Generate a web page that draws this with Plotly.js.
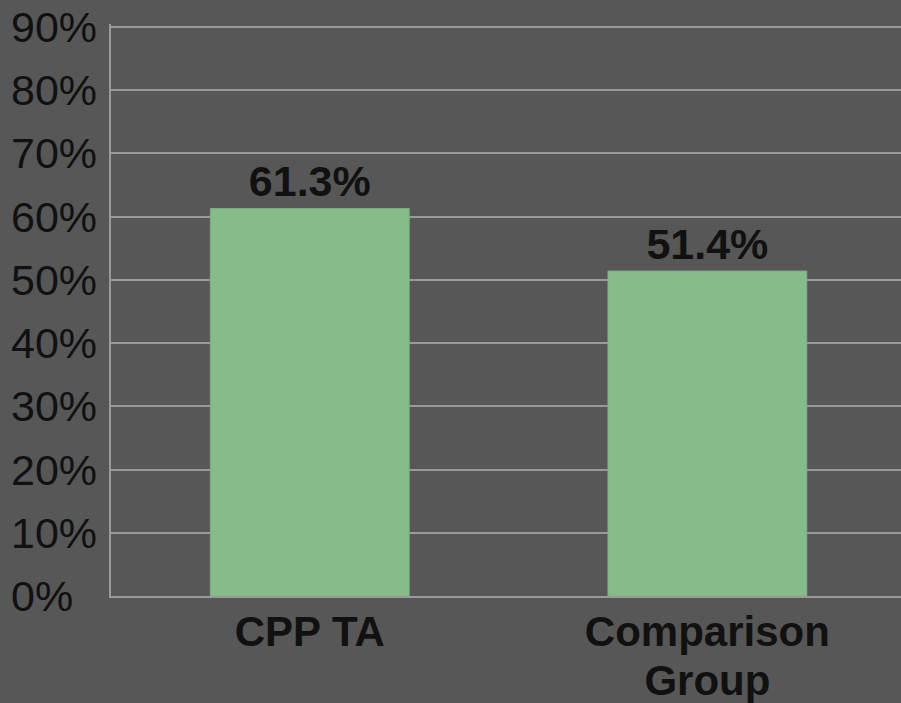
<!DOCTYPE html>
<html>
<head>
<meta charset="utf-8">
<script src="https://cdn.plot.ly/plotly-3.0.1.min.js"></script>
<style>
html,body{margin:0;padding:0;background:#575757;overflow:hidden;}
#chart{width:901px;height:703px;}
</style>
</head>
<body>
<div id="chart"></div>
<script>
const categories = ["CPP TA", "Comparison Group"];
const categoryLabels = ["CPP TA", "Comparison<br>Group"];
const values = [0.613, 0.514];
const valueLabels = ["61.3%", "51.4%"];
const yTickVals = [0, 0.1, 0.2, 0.3, 0.4, 0.5, 0.6, 0.7, 0.8, 0.9];
const yTickText = ["0%", "10%", "20%", "30%", "40%", "50%", "60%", "70%", "80%", "90%"];

const font = "'Liberation Sans', Arial, Helvetica, sans-serif";

const trace = {
  type: "bar",
  x: categories,
  y: values,
  text: valueLabels,
  textposition: "outside",
  texttemplate: "<b>%{text}</b>",
  textfont: {family: font, size: 43, color: "#111111"},
  cliponaxis: false,
  width: 0.5,
  marker: {color: "#86BC8A", line: {color: "#7DAF81", width: 1}},
  hoverinfo: "none"
};

const plotLeft = 111, plotWidth = 790;
const yAnnotations = yTickVals.map((v, i) => ({
  xref: "paper", yref: "y",
  x: (9 - plotLeft) / plotWidth, y: v,
  xanchor: "left", yanchor: "middle",
  text: yTickText[i],
  showarrow: false,
  font: {family: font, size: 43, color: "#111111"}
}));

const layout = {
  width: 901,
  height: 703,
  paper_bgcolor: "#575757",
  plot_bgcolor: "#575757",
  margin: {l: plotLeft, r: 0, t: 24, b: 107, pad: 0},
  showlegend: false,
  xaxis: {
    type: "category",
    range: [-0.5, 1.487],
    showgrid: false,
    showline: true,
    linecolor: "#9a9a9a",
    linewidth: 2,
    ticks: "",
    tickvals: categories,
    ticktext: categoryLabels.map(t => '<span style="font-size:42px"><b>' + t.replace("<br>", '</b></span><br><span style="font-size:42px"><b>') + '</b></span>'),
    tickfont: {family: font, size: 37, color: "#111111"},
    ticklabelstandoff: 4,
    fixedrange: true
  },
  yaxis: {
    range: [0, 0.9048],
    tickvals: yTickVals,
    showticklabels: false,
    showgrid: true,
    gridcolor: "#9a9a9a",
    gridwidth: 2,
    showline: true,
    linecolor: "#9a9a9a",
    linewidth: 2,
    zeroline: false,
    ticks: "",
    fixedrange: true
  },
  annotations: yAnnotations
};

Plotly.newPlot("chart", [trace], layout, {displayModeBar: false, staticPlot: true});
</script>
</body>
</html>
